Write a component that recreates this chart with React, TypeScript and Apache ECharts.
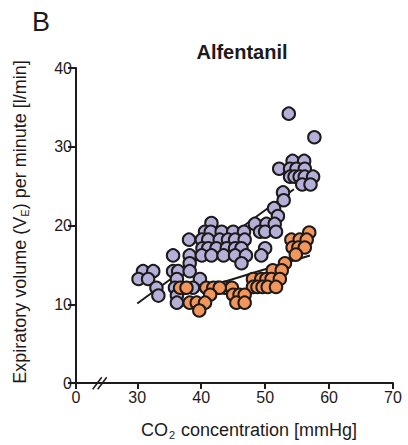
import React, { useEffect, useRef } from "react";
import * as echarts from "echarts";

// ---- data (CO2 concentration [mmHg], expiratory volume [l/min]) ----
const purplePoints: [number, number][] = [
  [53.7, 34.2], [57.7, 31.2],
  [54.3, 28.2], [56.1, 28.2],
  [52.2, 27.2], [53.9, 27.2], [54.9, 27.2], [56.2, 27.2],
  [53.9, 26.2], [54.6, 26.2], [55.4, 26.2], [56.2, 26.2], [57.5, 26.2],
  [55.8, 25.2], [57.1, 25.2],
  [52.8, 24.2], [52.9, 23.2],
  [51.4, 22.2], [52.0, 21.2],
  [48.4, 20.2], [50.2, 20.2], [51.5, 20.2],
  [49.2, 19.2], [50.0, 19.2], [51.7, 19.2],
  [41.6, 20.3],
  [40.6, 19.2], [41.5, 19.2], [43.2, 19.2], [45.0, 19.2], [46.7, 19.2],
  [38.1, 18.2], [40.1, 18.2], [41.1, 18.2], [42.9, 18.2], [44.2, 18.2], [45.3, 18.2], [46.8, 18.2],
  [40.2, 17.1], [41.1, 17.1], [42.4, 17.1], [44.0, 17.1], [45.3, 17.1], [46.3, 17.1], [50.0, 17.1],
  [35.6, 16.2], [38.2, 16.2], [40.1, 16.2], [41.6, 16.2], [43.5, 16.2], [45.3, 16.2], [47.0, 16.2], [49.4, 16.2],
  [38.2, 15.2], [46.3, 15.2],
  [30.9, 14.2], [32.5, 14.2], [35.6, 14.2], [36.4, 14.2], [38.2, 14.2],
  [30.2, 13.2], [31.7, 13.2], [36.2, 13.2], [39.8, 13.2],
  [33.0, 12.1], [35.9, 12.1], [38.7, 12.1],
  [33.3, 11.1], [36.2, 11.1],
  [36.2, 10.2],
];

const orangePoints: [number, number][] = [
  [56.9, 19.1],
  [54.1, 18.2], [55.4, 18.2], [56.5, 18.2],
  [54.3, 17.2], [55.2, 17.2], [56.2, 17.2],
  [54.8, 16.3],
  [53.1, 15.2],
  [51.2, 14.3], [52.6, 14.3],
  [48.1, 13.2], [49.4, 13.2], [50.2, 13.2], [51.0, 13.2], [52.3, 13.2],
  [48.1, 12.2], [48.8, 12.2], [49.6, 12.2], [50.4, 12.2], [51.7, 12.2],
  [42.6, 12.1], [43.7, 12.1], [44.8, 12.1],
  [45.0, 11.2], [46.0, 11.2], [46.8, 11.2],
  [45.5, 10.2], [46.8, 10.2],
  [36.7, 12.1], [37.7, 12.1], [40.8, 12.1], [41.9, 12.1], [42.9, 12.1],
  [41.4, 11.2],
  [38.2, 10.2], [39.3, 10.2], [40.6, 10.2],
  [39.7, 9.2],
];

const purpleFit: [number, number][] = [[30.0, 10.1], [54.5, 24.6]];
const orangeFit: [number, number][] = [[37.0, 11.2], [57.0, 16.2]];

// x axis is broken: "0" sits at the break start
const xBreakStart = 20.42;
const xTickValues = [xBreakStart, 30, 40, 50, 60, 70];
const xTickLabels = ["0", "30", "40", "50", "60", "70"];
const yTickValues = [0, 10, 20, 30, 40];

const INK = "#1e1a1b";
const PURPLE = "#b4b0d8";
const ORANGE = "#f2965c";
const FONT = "'Liberation Sans', Arial, Helvetica, sans-serif";

export default function App() {
  const ref = useRef<HTMLDivElement>(null);

  useEffect(() => {
    if (!ref.current) return;
    const chart = echarts.init(ref.current, null, { renderer: "svg" });
    chart.setOption({
      animation: false,
      backgroundColor: "#ffffff",
      textStyle: { fontFamily: FONT, color: INK },
      grid: { left: 76, right: 15, top: 68, bottom: 62, containLabel: false },
      xAxis: {
        type: "value",
        min: xBreakStart,
        max: 70,
        splitLine: { show: false },
        axisLine: { show: true, lineStyle: { color: INK, width: 2 } },
        axisTick: {
          show: true,
          length: 6,
          customValues: xTickValues,
          lineStyle: { color: INK, width: 2 },
        },
        axisLabel: {
          show: true,
          customValues: xTickValues,
          margin: 6,
          fontSize: 16,
          fontFamily: FONT,
          color: INK,
          formatter: (v: number) => {
            const i = xTickValues.findIndex((t) => Math.abs(t - v) < 1e-6);
            return i >= 0 ? xTickLabels[i] : "";
          },
        },
      },
      yAxis: {
        type: "value",
        min: 0,
        max: 40,
        interval: 10,
        splitLine: { show: false },
        axisLine: { show: true, lineStyle: { color: INK, width: 2 } },
        axisTick: { show: true, length: 8, lineStyle: { color: INK, width: 2 } },
        axisLabel: {
          show: true,
          margin: 4,
          fontSize: 16,
          fontFamily: FONT,
          color: INK,
          formatter: (v: number) => (yTickValues.includes(v) ? String(v) : ""),
        },
      },
      series: [
        {
          type: "line",
          data: purpleFit,
          symbol: "none",
          lineStyle: { color: INK, width: 2 },
          z: 1,
        },
        {
          type: "line",
          data: orangeFit,
          symbol: "none",
          lineStyle: { color: INK, width: 2 },
          z: 1,
        },
        {
          type: "scatter",
          data: purplePoints,
          symbol: "circle",
          symbolSize: 12.5,
          itemStyle: { color: PURPLE, borderColor: INK, borderWidth: 2, opacity: 1 },
          z: 2,
        },
        {
          type: "scatter",
          data: orangePoints,
          symbol: "circle",
          symbolSize: 12.5,
          itemStyle: { color: ORANGE, borderColor: INK, borderWidth: 2, opacity: 1 },
          z: 3,
        },
      ],
      graphic: [
        {
          type: "text",
          x: 41,
          y: 22,
          style: {
            text: "B",
            font: `27px ${FONT}`,
            fill: INK,
            align: "center",
            verticalAlign: "middle",
          },
        },
        {
          type: "text",
          x: 242,
          y: 52,
          style: {
            text: "Alfentanil",
            font: `bold 20px ${FONT}`,
            fill: INK,
            align: "center",
            verticalAlign: "middle",
          },
        },
        {
          type: "text",
          x: 249,
          y: 430,
          style: {
            text: "CO{sub|2} concentration [mmHg]",
            font: `18px ${FONT}`,
            fill: INK,
            align: "center",
            verticalAlign: "middle",
            rich: {
              sub: { fontSize: 11, fontFamily: FONT, fill: INK, verticalAlign: "bottom", padding: [9, 1, 0, 1] },
            },
          },
        },
        {
          type: "text",
          x: 20,
          y: 222,
          rotation: Math.PI / 2,
          style: {
            text: "Expiratory volume (V{sub|E}) per minute [l/min]",
            font: `18px ${FONT}`,
            fill: INK,
            align: "center",
            verticalAlign: "middle",
            rich: {
              sub: { fontSize: 11, fontFamily: FONT, fill: INK, verticalAlign: "bottom", padding: [9, 0, 0, 0] },
            },
          },
        },
        {
          type: "line",
          shape: { x1: 92.7, y1: 389.3, x2: 101.7, y2: 377.3 },
          style: { stroke: INK, lineWidth: 1.5 },
        },
        {
          type: "line",
          shape: { x1: 97.7, y1: 389.3, x2: 106.7, y2: 377.3 },
          style: { stroke: INK, lineWidth: 1.5 },
        },
      ],
    });
    return () => chart.dispose();
  }, []);

  return (
    <div
      ref={ref}
      style={{ position: "fixed", left: 0, top: 0, width: 408, height: 445 }}
    />
  );
}
